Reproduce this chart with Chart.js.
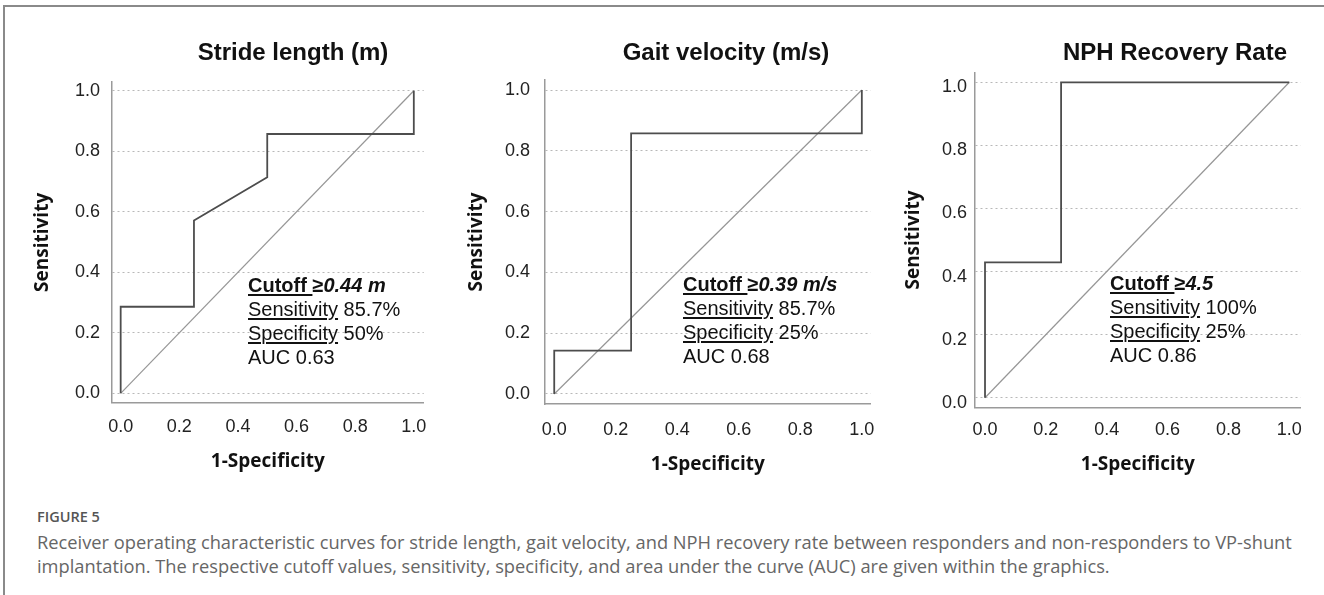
<!DOCTYPE html>
<html>
<head>
<meta charset="utf-8">
<script src="https://cdn.jsdelivr.net/npm/chart.js@4.4.1/dist/chart.umd.min.js"></script>
<style>
  html, body { margin: 0; padding: 0; background: #fff; }
  body { width: 1324px; height: 595px; position: relative; overflow: hidden; font-family: "Liberation Sans", Arial, sans-serif; }
  .frame { position: absolute; left: 3px; top: 5px; right: -10px; bottom: -10px; border-left: 2px solid #8a8a8a; border-top: 2px solid #8a8a8a; }
  canvas { position: absolute; top: 0; }
  .ptitle { position: absolute; top: 38px; line-height: 28px; font-size: 24px; font-weight: bold; color: #111; transform: translateX(-50%); white-space: nowrap; }
  .note { position: absolute; font-size: 20px; line-height: 24px; color: #111; white-space: nowrap; }
  .note u { text-decoration-thickness: 1.5px; text-underline-offset: 2px; }
  .cap-head { position: absolute; left: 37px; top: 509px; font-family: "Open Sans", sans-serif; font-size: 14.5px; line-height: 16px; font-weight: 600; color: #555; }
  .cap-body { position: absolute; left: 37px; top: 530px; font-family: "Open Sans", sans-serif; font-size: 18.3px; line-height: 24px; color: #666; white-space: nowrap; }
</style>
</head>
<body>
<div class="frame"></div>
<canvas id="c1" width="440" height="480" style="left:0px"></canvas>
<canvas id="c2" width="450" height="480" style="left:440px"></canvas>
<canvas id="c3" width="444" height="480" style="left:880px"></canvas>

<div class="ptitle" id="t1" style="left:293px"></div>
<div class="ptitle" id="t2" style="left:726px"></div>
<div class="ptitle" id="t3" style="left:1175px"></div>

<div class="note" id="n1" style="left:248px; top:273px"></div>
<div class="note" id="n2" style="left:683px; top:272px"></div>
<div class="note" id="n3" style="left:1110px; top:271px"></div>

<div class="cap-head">FIGURE 5</div>
<div class="cap-body">Receiver operating characteristic curves for stride length, gait velocity, and NPH recovery rate between responders and non-responders to VP-shunt<br>implantation. The respective cutoff values, sensitivity, specificity, and area under the curve (AUC) are given within the graphics.</div>

<script>
// ---- data ----
const tickValues = [0, 0.2, 0.4, 0.6, 0.8, 1.0];

const panelTitles = ["Stride length (m)", "Gait velocity (m/s)", "NPH Recovery Rate"];
const xAxisTitle = "1-Specificity";
const yAxisTitle = "Sensitivity";

// ROC curves: 1-specificity (x) and sensitivity (y)
const strideFpr = [0, 0, 0.25, 0.25, 0.5, 0.5, 1, 1];
const strideTpr = [0, 0.286, 0.286, 0.571, 0.714, 0.857, 0.857, 1];
const gaitFpr = [0, 0, 0.25, 0.25, 1, 1];
const gaitTpr = [0, 0.143, 0.143, 0.857, 0.857, 1];
const nphFpr = [0, 0, 0.25, 0.25, 1];
const nphTpr = [0, 0.429, 0.429, 1, 1];
// reference diagonal
const refFpr = [0, 1];
const refTpr = [0, 1];

const cutoffs = ["0.44 m", "0.39 m/s", "4.5"];
const sensitivities = ["85.7%", "85.7%", "100%"];
const specificities = ["50%", "25%", "25%"];
const aucs = ["0.63", "0.68", "0.86"];

// ---- build ----
const zip = (xs, ys) => xs.map((x, i) => ({ x: x, y: ys[i] }));

function makeChart(id, fpr, tpr, L) {
  const ctx = document.getElementById(id).getContext('2d');
  return new Chart(ctx, {
    type: 'scatter',
    data: {
      datasets: [
        { data: zip(fpr, tpr), showLine: true, borderColor: '#4d4d4d', borderWidth: 1.8, pointRadius: 0, fill: false, tension: 0 },
        { data: zip(refFpr, refTpr), showLine: true, borderColor: '#969696', borderWidth: 1.2, pointRadius: 0, fill: false, tension: 0 }
      ]
    },
    options: {
      responsive: false,
      animation: false,
      events: [],
      plugins: { legend: { display: false }, tooltip: { enabled: false }, title: { display: false } },
      layout: { padding: L.pad },
      scales: {
        x: {
          type: 'linear',
          min: L.xmin, max: L.xmax,
          afterBuildTicks: s => { s.ticks = tickValues.map(v => ({ value: v })); },
          afterFit: s => { s.height = L.xh; },
          grid: { display: false, drawTicks: false },
          border: { display: true, color: '#9a9a9a', width: 1.5 },
          ticks: { padding: L.xpad, color: '#222', font: { family: 'Liberation Sans', size: 18 }, callback: v => Number(v).toFixed(1), maxRotation: 0, autoSkip: false },
          title: { display: true, text: xAxisTitle, color: '#111', padding: 0, font: { family: 'Open Sans', weight: 'bold', size: 19 } }
        },
        y: {
          type: 'linear',
          min: L.ymin, max: L.ymax,
          afterBuildTicks: s => { s.ticks = tickValues.map(v => ({ value: v })); },
          afterFit: s => { s.width = L.yw; },
          grid: { display: true, drawTicks: false, color: '#b8b8b8', lineWidth: 1 },
          border: { display: true, color: '#9a9a9a', width: 1.5, dash: [2, 3] },
          ticks: { padding: L.ypad, color: '#222', font: { family: 'Liberation Sans', size: 18 }, callback: v => Number(v).toFixed(1), labelOffset: L.yoff || 0, autoSkip: false },
          title: { display: true, text: yAxisTitle, color: '#111', padding: 0, font: { family: 'Open Sans', weight: 'bold', size: 19 } }
        }
      }
    }
  });
}

const layouts = [
  { pad: { left: 31.6, top: 82, right: 15, bottom: 6.9 }, yw: 80.4, xh: 70.4, xpad: 13.2, ypad: 12,
    xmin: -0.0296, xmax: 1.034, ymin: -0.031, ymax: 1.0288 },
  { pad: { left: 25.3, top: 80, right: 17, bottom: 3.6 }, yw: 79.7, xh: 72.4, xpad: 15.2, ypad: 15,
    xmin: -0.030, xmax: 1.029, ymin: -0.0329, ymax: 1.0329 },
  { pad: { left: 21.9, top: 72.7, right: 23.3, bottom: 3.6 }, yw: 73.1, xh: 69.1, xpad: 11.9, ypad: 8, yoff: 5,
    xmin: -0.0329, xmax: 1.0375, ymin: -0.0304, ymax: 1.0304 }
];

makeChart('c1', strideFpr, strideTpr, layouts[0]);
makeChart('c2', gaitFpr, gaitTpr, layouts[1]);
makeChart('c3', nphFpr, nphTpr, layouts[2]);

['t1', 't2', 't3'].forEach((id, i) => { document.getElementById(id).textContent = panelTitles[i]; });
['n1', 'n2', 'n3'].forEach((id, i) => {
  document.getElementById(id).innerHTML =
    '<b><u>Cutoff </u>\u2265<i>' + cutoffs[i] + '</i></b><br>' +
    '<u>Sensitivity</u> ' + sensitivities[i] + '<br>' +
    '<u>Specificity</u> ' + specificities[i] + '<br>' +
    'AUC ' + aucs[i];
});
</script>
</body>
</html>
